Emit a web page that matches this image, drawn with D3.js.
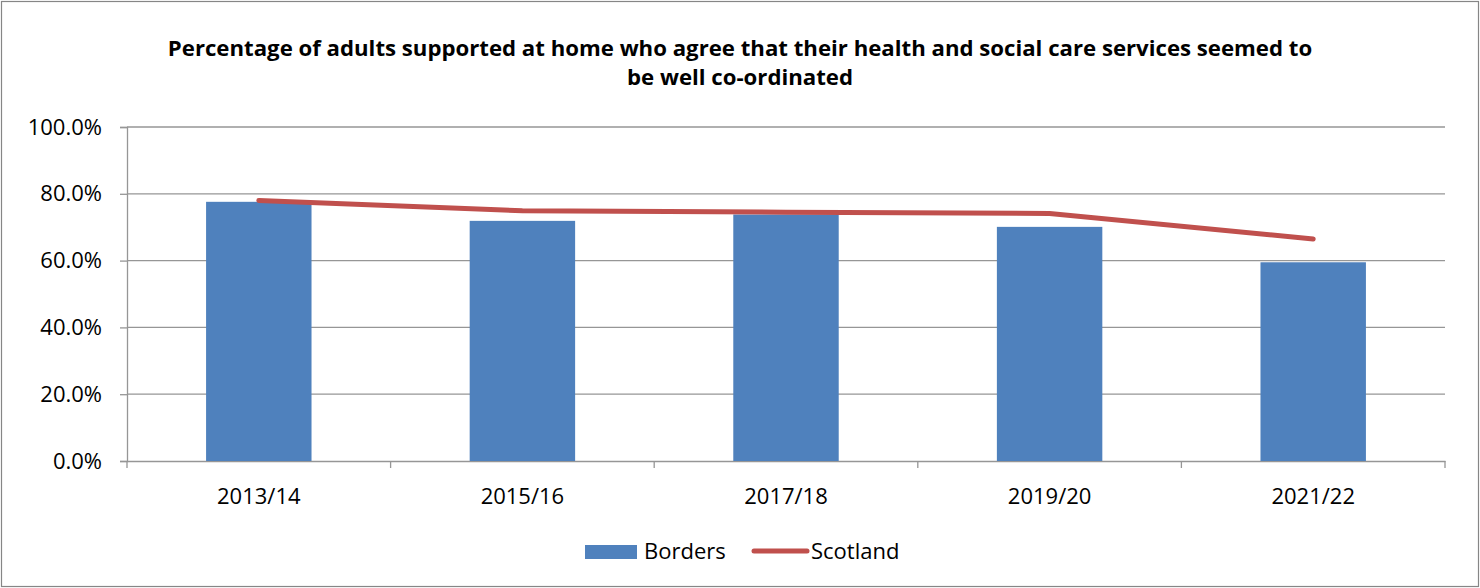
<!DOCTYPE html>
<html><head><meta charset="utf-8">
<script src="https://cdn.jsdelivr.net/npm/d3@7"></script>
<style>body{margin:0;background:#fff;} svg{display:block;}</style>
</head><body>
<script>
const categories = ["2013/14","2015/16","2017/18","2019/20","2021/22"];
const borders = [77.6, 71.9, 73.8, 70.1, 59.5];
const scotland = [78.0, 74.9, 74.5, 74.1, 66.5];
const yTicks = [0,20,40,60,80,100];
const titleLines = ["Percentage of adults supported at home who agree that their health and social care services seemed to","be well co-ordinated"];

const W=1480,H=588;
const svg=d3.select("body").append("svg").attr("width",W).attr("height",H);
const font="'Open Sans', Lato, sans-serif";
const fs=22;

svg.append("rect").attr("x",1.5).attr("y",1.5).attr("width",W-3).attr("height",H-3)
  .attr("fill","#fff").attr("stroke","#868686").attr("stroke-width",1.2);

const x=d3.scaleBand().domain(categories).range([127,1445]).padding(0);
const y=d3.scaleLinear().domain([0,100]).range([461,127]);

// gridlines
svg.append("g").selectAll("line").data(yTicks.filter(d=>d>0)).join("line")
  .attr("x1",127).attr("x2",1445).attr("y1",d=>y(d)).attr("y2",d=>y(d))
  .attr("stroke","#969696").attr("stroke-width",1.3);

// y axis
const ya=svg.append("g").attr("transform","translate(127,0)")
  .call(d3.axisLeft(y).tickValues(yTicks).tickSize(7).tickPadding(18).tickFormat(d=>d.toFixed(1)+"%"));
ya.select(".domain").attr("stroke","#969696").attr("stroke-width",1.3);
ya.selectAll(".tick line").attr("stroke","#969696").attr("stroke-width",1.3);
ya.selectAll("text").attr("font-family",font).attr("font-size",fs).attr("fill","#000");

// x axis
const xa=svg.append("g").attr("transform","translate(0,461)")
  .call(d3.axisBottom(x).tickSize(0).tickPadding(27));
xa.select(".domain").attr("stroke","#969696").attr("stroke-width",1.3);
xa.selectAll("text").attr("font-family",font).attr("font-size",fs).attr("fill","#000");
// boundary ticks
svg.append("g").selectAll("line").data(d3.range(categories.length+1)).join("line")
  .attr("x1",i=>127+i*x.step()).attr("x2",i=>127+i*x.step())
  .attr("y1",461).attr("y2",468).attr("stroke","#969696").attr("stroke-width",1.3);

// bars
const bw=x.bandwidth()*0.4;
svg.append("g").selectAll("rect").data(categories).join("rect")
  .attr("x",(c)=>x(c)+(x.bandwidth()-bw)/2).attr("width",bw)
  .attr("y",(c,i)=>y(borders[i])).attr("height",(c,i)=>y(0)-y(borders[i]))
  .attr("fill","#4F81BD");

// line
const line=d3.line().x((d,i)=>x(categories[i])+x.bandwidth()/2).y(d=>y(d));
svg.append("path").datum(scotland).attr("d",line).attr("fill","none")
  .attr("stroke","#C0504D").attr("stroke-width",5).attr("stroke-linecap","round").attr("stroke-linejoin","round");

// title
svg.append("g").selectAll("text").data(titleLines).join("text")
  .attr("x",740).attr("y",(d,i)=>56+i*29).attr("text-anchor","middle")
  .attr("font-family",font).attr("font-weight","bold").attr("font-size",22.2).attr("fill","#000").text(d=>d);

// legend
const lg=svg.append("g");
lg.append("rect").attr("x",585).attr("y",545).attr("width",52).attr("height",14).attr("fill","#4F81BD");
lg.append("text").attr("x",644).attr("y",559).attr("font-family",font).attr("font-size",fs).text("Borders");
lg.append("line").attr("x1",754).attr("x2",807).attr("y1",551).attr("y2",551)
  .attr("stroke","#C0504D").attr("stroke-width",5).attr("stroke-linecap","round");
lg.append("text").attr("x",811).attr("y",559).attr("font-family",font).attr("font-size",fs).text("Scotland");
</script>
</body></html>
